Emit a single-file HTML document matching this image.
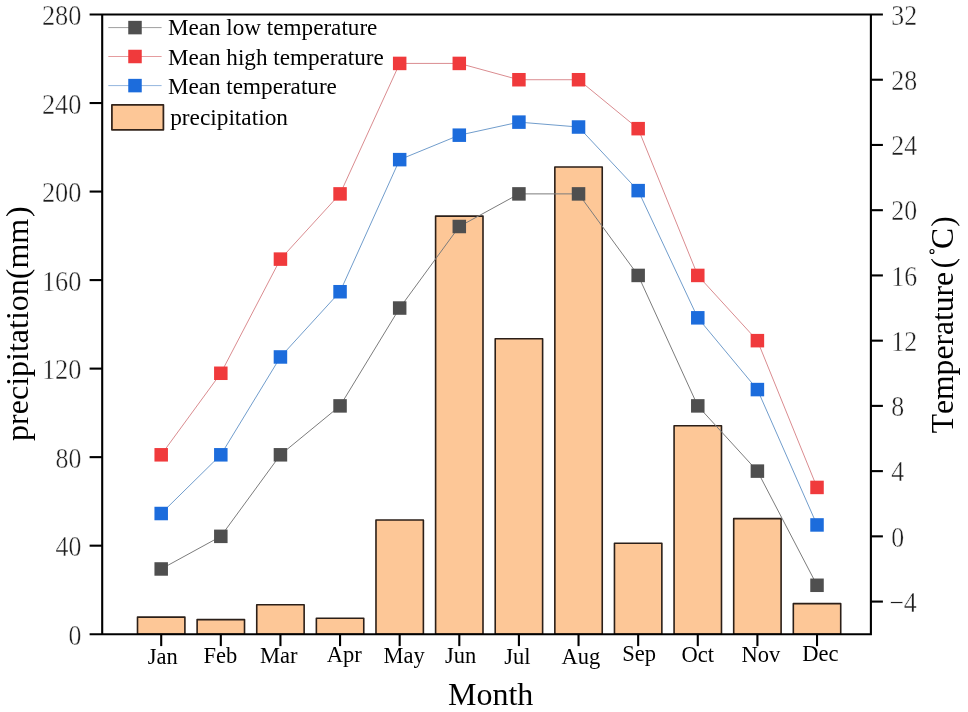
<!DOCTYPE html>
<html><head><meta charset="utf-8"><title>chart</title>
<style>html,body{margin:0;padding:0;background:#fff;}svg{display:block;filter:blur(0.42px);}text{font-family:"Liberation Serif",serif;font-kerning:none;}.tk text{fill:#1e1e1e;stroke:#fff;stroke-width:0.42px;}</style>
</head><body>
<svg width="968" height="712" viewBox="0 0 968 712">
<rect x="0" y="0" width="968" height="712" fill="#fff"/>
<g fill="#FDC797" stroke="#2b1f18" stroke-width="1.6" stroke-linejoin="round">
<rect x="137.50" y="617.16" width="47.4" height="17.04"/>
<rect x="197.12" y="619.59" width="47.4" height="14.61"/>
<rect x="256.74" y="604.76" width="47.4" height="29.44"/>
<rect x="316.36" y="618.26" width="47.4" height="15.94"/>
<rect x="375.98" y="520.00" width="47.4" height="114.20"/>
<rect x="435.60" y="216.12" width="47.4" height="418.08"/>
<rect x="495.22" y="338.74" width="47.4" height="295.46"/>
<rect x="554.84" y="166.99" width="47.4" height="467.21"/>
<rect x="614.46" y="543.24" width="47.4" height="90.96"/>
<rect x="674.08" y="425.72" width="47.4" height="208.48"/>
<rect x="733.70" y="518.67" width="47.4" height="115.53"/>
<rect x="793.32" y="603.66" width="47.4" height="30.54"/>
</g>
<polyline points="161.20,568.97 220.82,536.35 280.44,454.81 340.06,405.89 399.68,308.04 459.30,226.50 518.92,193.89 578.54,193.89 638.16,275.43 697.78,405.89 757.40,471.12 817.02,585.28" fill="none" stroke="#7c7c7c" stroke-width="1.0"/>
<g fill="#4f4f4f">
<rect x="154.45" y="562.22" width="13.5" height="13.5"/>
<rect x="214.07" y="529.60" width="13.5" height="13.5"/>
<rect x="273.69" y="448.06" width="13.5" height="13.5"/>
<rect x="333.31" y="399.14" width="13.5" height="13.5"/>
<rect x="392.93" y="301.29" width="13.5" height="13.5"/>
<rect x="452.55" y="219.75" width="13.5" height="13.5"/>
<rect x="512.17" y="187.14" width="13.5" height="13.5"/>
<rect x="571.79" y="187.14" width="13.5" height="13.5"/>
<rect x="631.41" y="268.68" width="13.5" height="13.5"/>
<rect x="691.03" y="399.14" width="13.5" height="13.5"/>
<rect x="750.65" y="464.37" width="13.5" height="13.5"/>
<rect x="810.27" y="578.53" width="13.5" height="13.5"/>
</g>
<polyline points="161.20,454.81 220.82,373.27 280.44,259.12 340.06,193.89 399.68,63.42 459.30,63.42 518.92,79.73 578.54,79.73 638.16,128.66 697.78,275.43 757.40,340.66 817.02,487.43" fill="none" stroke="#da8c90" stroke-width="1.0"/>
<g fill="#F03A3C">
<rect x="154.45" y="448.06" width="13.5" height="13.5"/>
<rect x="214.07" y="366.52" width="13.5" height="13.5"/>
<rect x="273.69" y="252.37" width="13.5" height="13.5"/>
<rect x="333.31" y="187.14" width="13.5" height="13.5"/>
<rect x="392.93" y="56.67" width="13.5" height="13.5"/>
<rect x="452.55" y="56.67" width="13.5" height="13.5"/>
<rect x="512.17" y="72.98" width="13.5" height="13.5"/>
<rect x="571.79" y="72.98" width="13.5" height="13.5"/>
<rect x="631.41" y="121.91" width="13.5" height="13.5"/>
<rect x="691.03" y="268.68" width="13.5" height="13.5"/>
<rect x="750.65" y="333.91" width="13.5" height="13.5"/>
<rect x="810.27" y="480.68" width="13.5" height="13.5"/>
</g>
<polyline points="161.20,513.52 220.82,454.81 280.44,356.97 340.06,291.73 399.68,159.64 459.30,135.18 518.92,122.13 578.54,127.02 638.16,190.63 697.78,317.83 757.40,389.58 817.02,524.94" fill="none" stroke="#719dcc" stroke-width="1.0"/>
<g fill="#1C6CDC">
<rect x="154.45" y="506.77" width="13.5" height="13.5"/>
<rect x="214.07" y="448.06" width="13.5" height="13.5"/>
<rect x="273.69" y="350.22" width="13.5" height="13.5"/>
<rect x="333.31" y="284.98" width="13.5" height="13.5"/>
<rect x="392.93" y="152.89" width="13.5" height="13.5"/>
<rect x="452.55" y="128.43" width="13.5" height="13.5"/>
<rect x="512.17" y="115.38" width="13.5" height="13.5"/>
<rect x="571.79" y="120.27" width="13.5" height="13.5"/>
<rect x="631.41" y="183.88" width="13.5" height="13.5"/>
<rect x="691.03" y="311.08" width="13.5" height="13.5"/>
<rect x="750.65" y="382.83" width="13.5" height="13.5"/>
<rect x="810.27" y="518.19" width="13.5" height="13.5"/>
</g>
<g stroke="#000" stroke-width="2.1" fill="none" stroke-linecap="butt">
<path d="M102.2 13.45 V635.25 M870.9 13.45 V635.25 M89.60000000000001 14.5 H882.9 M89.60000000000001 634.2 H870.9"/>
<path d="M89.60000000000001 545.67 H102.2"/>
<path d="M89.60000000000001 457.14 H102.2"/>
<path d="M89.60000000000001 368.61 H102.2"/>
<path d="M89.60000000000001 280.09 H102.2"/>
<path d="M89.60000000000001 191.56 H102.2"/>
<path d="M89.60000000000001 103.03 H102.2"/>
<path d="M870.9 601.58 H882.9"/>
<path d="M870.9 536.35 H882.9"/>
<path d="M870.9 471.12 H882.9"/>
<path d="M870.9 405.89 H882.9"/>
<path d="M870.9 340.66 H882.9"/>
<path d="M870.9 275.43 H882.9"/>
<path d="M870.9 210.19 H882.9"/>
<path d="M870.9 144.96 H882.9"/>
<path d="M870.9 79.73 H882.9"/>
<path d="M161.20 634.2 V646.1"/>
<path d="M220.82 634.2 V646.1"/>
<path d="M280.44 634.2 V646.1"/>
<path d="M340.06 634.2 V646.1"/>
<path d="M399.68 634.2 V646.1"/>
<path d="M459.30 634.2 V646.1"/>
<path d="M518.92 634.2 V646.1"/>
<path d="M578.54 634.2 V646.1"/>
<path d="M638.16 634.2 V646.1"/>
<path d="M697.78 634.2 V646.1"/>
<path d="M757.40 634.2 V646.1"/>
<path d="M817.02 634.2 V646.1"/>
</g>
<g font-size="28.5" text-anchor="end" fill="#111" class="tk">
<text transform="translate(81.5 644.90) scale(0.908 1)">0</text>
<text transform="translate(81.5 556.37) scale(0.908 1)">40</text>
<text transform="translate(81.5 467.84) scale(0.908 1)">80</text>
<text transform="translate(81.5 379.31) scale(0.9261600000000001 1)">120</text>
<text transform="translate(81.5 290.79) scale(0.9261600000000001 1)">160</text>
<text transform="translate(81.5 202.26) scale(0.9261600000000001 1)">200</text>
<text transform="translate(81.5 113.73) scale(0.9261600000000001 1)">240</text>
<text transform="translate(81.5 25.20) scale(0.9261600000000001 1)">280</text>
</g>
<g font-size="28.5" text-anchor="end" fill="#111" class="tk">
<text transform="translate(916.8 611.78) scale(0.908 1)">−4</text>
<text text-anchor="start" transform="translate(891.3 546.55) scale(0.908 1)">0</text>
<text text-anchor="start" transform="translate(891.3 481.32) scale(0.908 1)">4</text>
<text text-anchor="start" transform="translate(891.3 416.09) scale(0.908 1)">8</text>
<text text-anchor="start" transform="translate(891.3 350.86) scale(0.908 1)">12</text>
<text text-anchor="start" transform="translate(891.3 285.63) scale(0.908 1)">16</text>
<text text-anchor="start" transform="translate(891.3 220.39) scale(0.908 1)">20</text>
<text text-anchor="start" transform="translate(891.3 155.16) scale(0.908 1)">24</text>
<text text-anchor="start" transform="translate(891.3 89.93) scale(0.908 1)">28</text>
<text text-anchor="start" transform="translate(891.3 24.70) scale(0.908 1)">32</text>
</g>
<g font-size="22.5" text-anchor="middle">
<text x="162.85" y="664.00">Jan</text>
<text x="220.40" y="663.00">Feb</text>
<text x="278.85" y="663.00">Mar</text>
<text x="344.20" y="662.00">Apr</text>
<text x="404.15" y="663.00">May</text>
<text x="460.70" y="663.00">Jun</text>
<text x="517.50" y="663.50">Jul</text>
<text x="580.90" y="663.50">Aug</text>
<text x="639.10" y="661.40">Sep</text>
<text x="697.70" y="662.00">Oct</text>
<text x="760.80" y="662.40">Nov</text>
<text x="820.45" y="661.00">Dec</text>
</g>
<text x="490.6" y="705.4" font-size="32" text-anchor="middle">Month</text>
<text transform="translate(28.4 323.6) rotate(-90)" font-size="32" text-anchor="middle">precipitation(mm<tspan dx="1.8">)</tspan></text>
<text transform="translate(953.4 433.3) rotate(-90)" font-size="31.6">Temperature<tspan dx="3.5">(</tspan><tspan dx="9.0">C</tspan><tspan dx="1.1">)</tspan></text>
<circle cx="932" cy="251.5" r="2.0" fill="none" stroke="#000" stroke-width="1.1"/>
<path d="M108.3 27.6 H161.6" stroke="#9e9e9e" stroke-width="1.0" fill="none"/>
<rect x="128.25" y="20.85" width="13.5" height="13.5" fill="#4f4f4f"/>
<text x="167.9" y="35.3" font-size="23.15">Mean low temperature</text>
<path d="M108.3 56.5 H161.6" stroke="#e59c9e" stroke-width="1.0" fill="none"/>
<rect x="128.25" y="49.75" width="13.5" height="13.5" fill="#F03A3C"/>
<text x="167.9" y="64.8" font-size="23.15">Mean high temperature</text>
<path d="M108.3 85.6 H161.6" stroke="#93b6de" stroke-width="1.0" fill="none"/>
<rect x="128.25" y="78.85" width="13.5" height="13.5" fill="#1C6CDC"/>
<text x="167.9" y="93.7" font-size="23.15">Mean temperature</text>
<rect x="111.9" y="104.8" width="51.5" height="25" fill="#FDC797" stroke="#33241b" stroke-width="1.75" stroke-linejoin="round"/>
<text x="170.2" y="125.4" font-size="23.3">precipitation</text>
</svg></body></html>
